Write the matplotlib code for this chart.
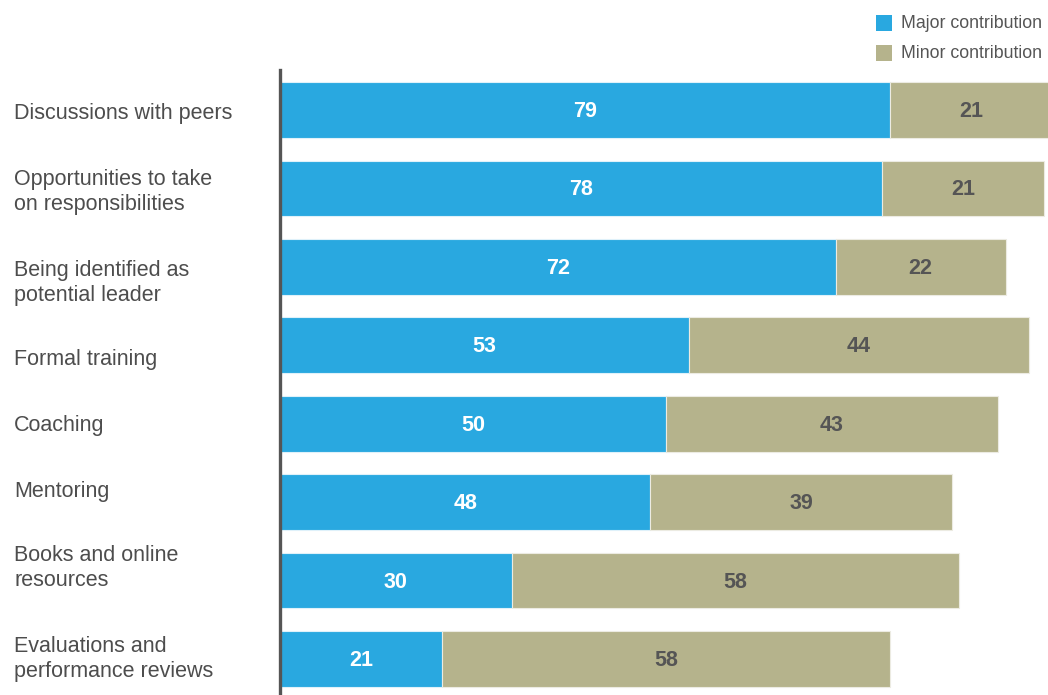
import numpy as np
import matplotlib.pyplot as plt
from matplotlib.patches import Rectangle

plt.rcParams['font.family'] = ['Liberation Sans', 'DejaVu Sans']

categories = ['Discussions with peers', 'Opportunities to take\non responsibilities',
              'Being identified as\npotential leader', 'Formal training', 'Coaching',
              'Mentoring', 'Books and online\nresources',
              'Evaluations and\nperformance reviews']
major = [79, 78, 72, 53, 50, 48, 30, 21]
minor = [21, 21, 22, 44, 43, 39, 58, 58]

# vertical pixel positions of the left labels (they are not exactly centred on bars)
label_px = [114, 192, 283, 360, 426, 491, 568, 659]

blue = '#29A8E0'
tan = '#B5B38C'

fig = plt.figure(figsize=(10.48, 6.95), dpi=100)
ax = fig.add_axes([280 / 1048, 0, 768 / 1048, 625 / 695])

y = np.arange(len(categories))
ax.barh(y, major, height=0.71, color=blue, edgecolor='#dff1fa', linewidth=0.8)
ax.barh(y, minor, left=major, height=0.71, color=tan, edgecolor='#ecebe2', linewidth=0.8)

for i in range(len(categories)):
    ax.text(major[i] / 2, y[i] + 0.02, str(major[i]), ha='center', va='center',
            color='white', fontsize=15.5, fontweight='bold')
    ax.text(major[i] + minor[i] / 2, y[i] + 0.02, str(minor[i]), ha='center', va='center',
            color='#555555', fontsize=15.5, fontweight='bold')

for lab, py in zip(categories, label_px):
    fig.text(14 / 1048, 1 - py / 695, lab, ha='left', va='center',
             fontsize=15.5, color='#4d4d4d', linespacing=1.2)

ax.set_xlim(0, 99.5)
ax.set_ylim(7.46, -0.51)
for s in ['top', 'right', 'bottom']:
    ax.spines[s].set_visible(False)
ax.spines['left'].set_color('#555555')
ax.spines['left'].set_linewidth(2.4)
ax.set_xticks([])
ax.set_yticks([])

# legend
leg = [('Major contribution', blue, 23), ('Minor contribution', tan, 53)]
for name, col, py in leg:
    fig.patches.append(Rectangle((876 / 1048, 1 - (py + 8) / 695), 16 / 1048, 16 / 695,
                                 transform=fig.transFigure, facecolor=col, edgecolor='none'))
    fig.text(901 / 1048, 1 - py / 695, name, ha='left', va='center',
             fontsize=12.8, color='#555555')

fig.savefig('out.png', dpi=100)
